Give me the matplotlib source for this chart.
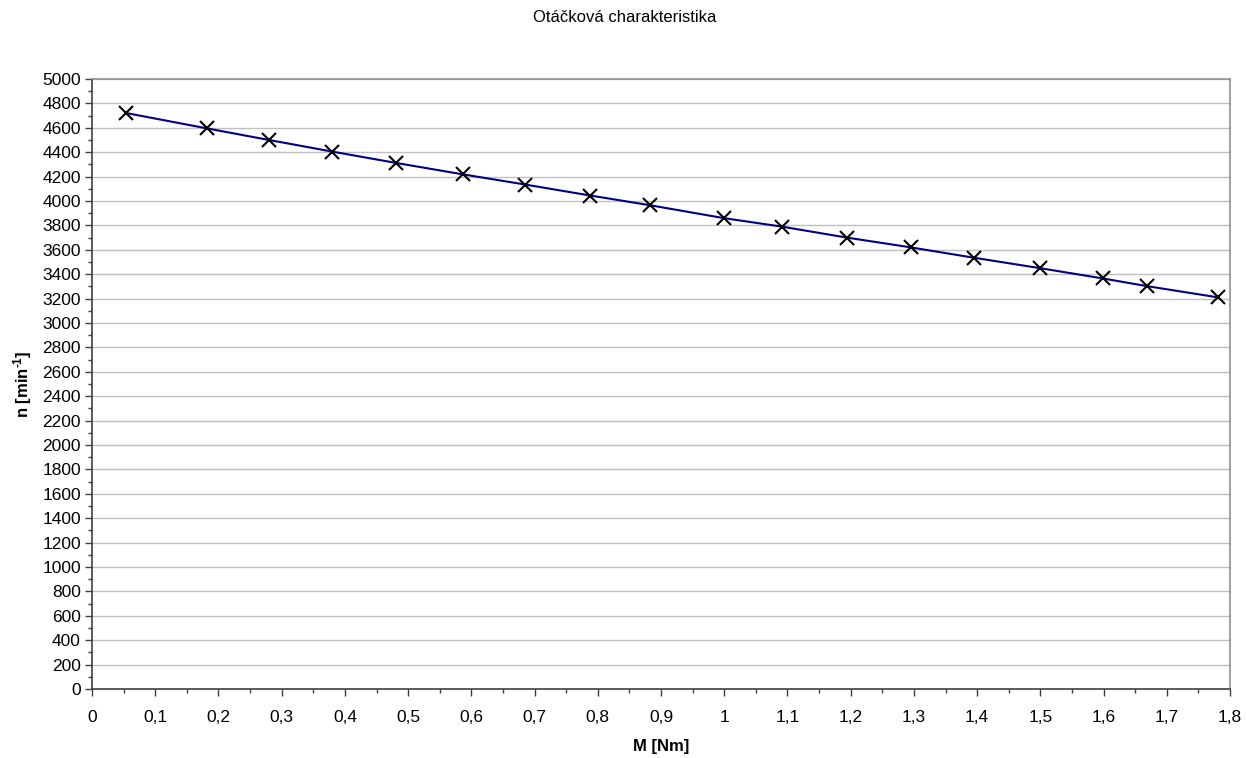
import matplotlib
matplotlib.use("Agg")
import matplotlib.pyplot as plt
from matplotlib.ticker import MultipleLocator, FuncFormatter

plt.rcParams['font.family'] = ['Liberation Sans', 'DejaVu Sans']
plt.rcParams['mathtext.fontset'] = 'custom'
plt.rcParams['mathtext.rm'] = 'Liberation Sans:bold'
plt.rcParams['mathtext.bf'] = 'Liberation Sans:bold'
plt.rcParams['mathtext.it'] = 'Liberation Sans:bold'

# Torque [Nm] and speed [min^-1]
torque = [0.054, 0.182, 0.280, 0.380, 0.481, 0.587, 0.685, 0.788, 0.883,
          0.999, 1.091, 1.194, 1.295, 1.395, 1.499, 1.599, 1.669, 1.781]
speed = [4721, 4595, 4500, 4405, 4312, 4218, 4135, 4045, 3965,
         3860, 3790, 3700, 3620, 3535, 3450, 3365, 3302, 3210]

title = "Otáčková charakteristika"
xlabel = "M [Nm]"
ylabel = r"n [min$^{\text{-1}}$]"

fig = plt.figure(figsize=(12.46, 7.58), dpi=100)
ax = fig.add_axes([92 / 1246, 69 / 758, (1230 - 92) / 1246, (689 - 79) / 758])

ax.plot(torque, speed, color='#000080', linewidth=1.5, zorder=3)
ax.plot(torque, speed, linestyle='none', marker='x', markersize=10,
        markeredgewidth=1.5, color='black', zorder=4)

ax.set_xlim(0, 1.8)
ax.set_ylim(0, 5000)
ax.xaxis.set_major_locator(MultipleLocator(0.1))
ax.xaxis.set_minor_locator(MultipleLocator(0.05))
ax.yaxis.set_major_locator(MultipleLocator(200))
ax.yaxis.set_minor_locator(MultipleLocator(100))

def fmt_x(v, pos):
    s = f"{v:.1f}"
    if s.endswith(".0"):
        s = s[:-2]
    return s.replace(".", ",")

ax.xaxis.set_major_formatter(FuncFormatter(fmt_x))
ax.yaxis.set_major_formatter(FuncFormatter(lambda v, p: f"{int(round(v))}"))

ax.grid(axis='y', which='major', color='#c0c0c0', linewidth=1.0)
ax.set_axisbelow(True)

for side in ('left', 'bottom'):
    ax.spines[side].set_color('#404040')
    ax.spines[side].set_linewidth(1.2)
for side in ('top', 'right'):
    ax.spines[side].set_color('#909090')
    ax.spines[side].set_linewidth(1.2)

ax.tick_params(axis='both', which='major', direction='out', length=5,
               width=1, color='#404040', labelsize=12.5, pad=3)
ax.tick_params(axis='both', which='minor', direction='out', length=3,
               width=1, color='#404040')
ax.tick_params(axis='x', which='major', pad=10)

ax.set_xlabel(xlabel, fontsize=12, fontweight='bold', labelpad=10)
ax.set_ylabel(ylabel, fontsize=12, fontweight='bold', labelpad=6)

fig.text(0.5015, 1 - 17 / 758, title, ha='center', va='center', fontsize=12)

fig.savefig("out.png", dpi=100, facecolor='white')
